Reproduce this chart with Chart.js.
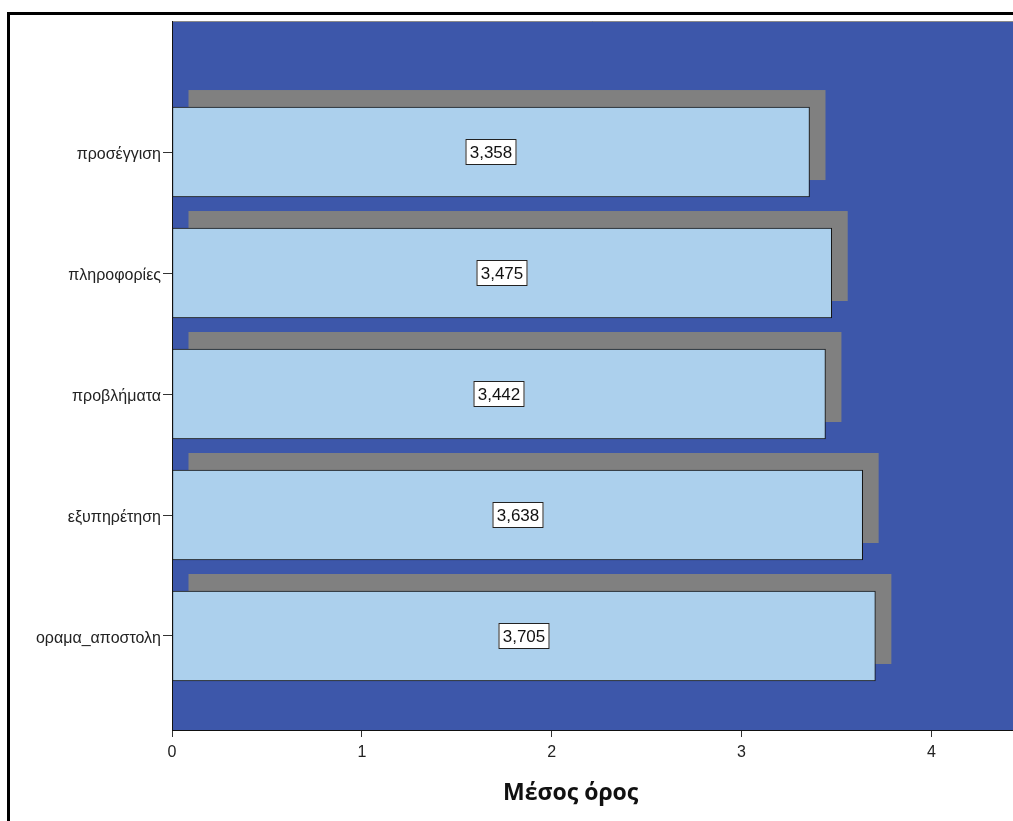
<!DOCTYPE html>
<html lang="el">
<head>
<meta charset="utf-8">
<title>Μέσος όρος</title>
<script src="https://cdn.jsdelivr.net/npm/chart.js@4/dist/chart.umd.min.js"></script>
<style>
  html, body { margin: 0; padding: 0; background: #fff; }
  body { width: 1013px; height: 821px; overflow: hidden; position: relative; }
  #frame {
    position: absolute; left: 7px; top: 12px;
    width: 2000px; height: 2000px;
    border: 3px solid #000;
  }
  #chart { position: absolute; left: 0; top: 0; }
</style>
</head>
<body>
<div id="frame"></div>
<canvas id="chart" width="1013" height="821"></canvas>
<script>
// Category names (y axis) and mean scores per category
const CATEGORIES = ['προσέγγιση', 'πληροφορίες', 'προβλήματα', 'εξυπηρέτηση', 'οραμα_αποστολη'];
const MEANS = [3.358, 3.475, 3.442, 3.638, 3.705];
const X_TICKS = [0, 1, 2, 3, 4];
const AXIS_TITLE = 'Μέσος όρος';

const PLOT_BG = '#3D57AA';
const BAR_FILL = '#ACD0ED';
const SHADOW = '#808080';
const FONT = '"Liberation Sans", Arial, sans-serif';

// plot background and its thin top edge
const plotBackground = {
  id: 'plotBackground',
  beforeDraw(chart) {
    const { ctx, chartArea: a } = chart;
    ctx.save();
    ctx.fillStyle = PLOT_BG;
    ctx.fillRect(a.left, a.top, a.right - a.left, a.bottom - a.top);
    ctx.strokeStyle = '#8a8a8a';
    ctx.lineWidth = 1;
    ctx.beginPath();
    ctx.moveTo(a.left, a.top + 0.5);
    ctx.lineTo(a.right, a.top + 0.5);
    ctx.stroke();
    ctx.restore();
  }
};

// flat drop shadow behind each bar, shifted right and up
const barShadows = {
  id: 'barShadows',
  beforeDatasetsDraw(chart) {
    const { ctx } = chart;
    const meta = chart.getDatasetMeta(0);
    ctx.save();
    ctx.fillStyle = SHADOW;
    meta.data.forEach(bar => {
      const p = bar.getProps(['x', 'y', 'base', 'height'], true);
      const left = Math.min(p.base, p.x);
      const w = Math.abs(p.x - p.base);
      ctx.fillRect(left + 16, p.y - p.height / 2 - 17, w, p.height);
    });
    ctx.restore();
  }
};

// boxed value label in the middle of each bar
const valueLabels = {
  id: 'valueLabels',
  afterDatasetsDraw(chart) {
    const { ctx } = chart;
    const meta = chart.getDatasetMeta(0);
    const values = chart.data.datasets[0].data;
    ctx.save();
    ctx.font = '17px ' + FONT;
    ctx.textAlign = 'center';
    ctx.textBaseline = 'middle';
    meta.data.forEach((bar, i) => {
      const p = bar.getProps(['x', 'y', 'base'], true);
      const text = values[i].x.toFixed(3).replace('.', ',');
      const cx = Math.round((p.x + p.base) / 2);
      const cy = Math.round(p.y);
      const w = Math.round(ctx.measureText(text).width) + 8;
      const h = 26;
      ctx.fillStyle = '#fff';
      ctx.fillRect(cx - w / 2, cy - h / 2, w, h);
      ctx.strokeStyle = '#222';
      ctx.lineWidth = 1;
      ctx.strokeRect(cx - w / 2 + 0.5, cy - h / 2 + 0.5, w - 1, h - 1);
      ctx.fillStyle = '#111';
      ctx.fillText(text, cx, cy + 1);
    });
    ctx.restore();
  }
};

// bold title under the value axis
const axisTitle = {
  id: 'axisTitle',
  afterDraw(chart) {
    const { ctx } = chart;
    const xs = chart.scales.x;
    ctx.save();
    ctx.font = 'bold 23px "Open Sans", "Noto Sans", sans-serif';
    ctx.fillStyle = '#111';
    ctx.textAlign = 'center';
    ctx.textBaseline = 'alphabetic';
    ctx.fillText(AXIS_TITLE, xs.getPixelForValue(2.1), 800);
    ctx.restore();
  }
};

new Chart(document.getElementById('chart'), {
  type: 'bar',
  data: {
    datasets: [{
      data: MEANS.map((v, i) => ({ x: v, y: i })),
      backgroundColor: BAR_FILL,
      borderColor: '#111',
      borderWidth: 1,
      borderSkipped: false,
      barThickness: 90
    }]
  },
  options: {
    indexAxis: 'y',
    responsive: false,
    animation: false,
    devicePixelRatio: 1,
    layout: { padding: { top: 21, left: 0, right: 0, bottom: 0 } },
    plugins: {
      legend: { display: false },
      tooltip: { enabled: false }
    },
    scales: {
      x: {
        type: 'linear',
        position: 'bottom',
        min: 0,
        max: 4.43,
        afterBuildTicks: s => { s.ticks = X_TICKS.map(v => ({ value: v })); },
        afterFit: s => { s.height = 91; },
        grid: { drawOnChartArea: false, drawTicks: true, tickLength: 7, tickColor: '#333', color: '#333' },
        border: { display: true, color: '#111', width: 1 },
        ticks: { font: { family: FONT, size: 16 }, color: '#222', padding: 6, autoSkip: false, maxRotation: 0 }
      },
      y: {
        type: 'linear',
        position: 'left',
        reverse: true,
        offset: false,
        min: -1.083,
        max: 4.777,
        afterBuildTicks: s => { s.ticks = CATEGORIES.map((_, i) => ({ value: i })); },
        afterFit: s => { s.width = 172; },
        grid: { offset: false, drawOnChartArea: false, drawTicks: true, tickLength: 9, tickColor: '#333', color: '#333' },
        border: { display: true, color: '#111', width: 1 },
        ticks: {
          font: { family: FONT, size: 16 }, color: '#222', padding: 2, autoSkip: false,
          labelOffset: 3,
          callback: v => CATEGORIES[v]
        }
      }
    }
  },
  plugins: [plotBackground, barShadows, valueLabels, axisTitle]
});
</script>
</body>
</html>
